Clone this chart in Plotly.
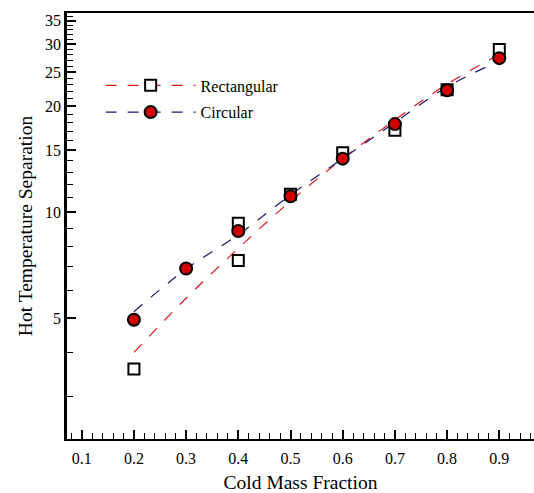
import plotly.graph_objects as go

# Marker data
rect_x = [0.2, 0.4, 0.4, 0.5, 0.6, 0.7, 0.8, 0.9]
rect_y = [3.59, 7.3, 9.3, 11.25, 14.77, 17.1, 22.27, 29.0]
circ_x = [0.2, 0.3, 0.4, 0.5, 0.6, 0.7, 0.8, 0.9]
circ_y = [4.95, 6.92, 8.84, 11.1, 14.2, 17.8, 22.2, 27.4]

# Fitted (dashed) curves
fit_x = [0.2, 0.3, 0.4, 0.5, 0.6, 0.7, 0.8, 0.9]
rect_fit = [4.0, 5.7, 7.9, 10.75, 14.2, 18.3, 23.1, 28.1]
circ_fit = [5.22, 6.9, 8.63, 11.2, 14.2, 18.0, 22.7, 26.9]

y_major = [5, 10, 15, 20, 25, 30, 35]
y_minor = [v for v in range(3, 37) if v not in y_major]

RED = "rgb(225,25,25)"
BLUE = "rgb(25,25,115)"
FILL = "rgb(210,0,0)"
FONT = "Liberation Serif"

fig = go.Figure()
fig.add_trace(go.Scatter(x=fit_x, y=rect_fit, mode="lines", line=dict(color=RED, width=1.2, dash="11px,11px", shape="spline"), showlegend=False))
fig.add_trace(go.Scatter(x=fit_x, y=circ_fit, mode="lines", line=dict(color=BLUE, width=1.2, dash="11px,11px", shape="spline"), showlegend=False))
fig.add_trace(go.Scatter(x=rect_x, y=rect_y, mode="markers", marker=dict(symbol="square", size=11, color="white", line=dict(color="black", width=2)), showlegend=False))
fig.add_trace(go.Scatter(x=circ_x, y=circ_y, mode="markers", marker=dict(symbol="circle", size=12, color=FILL, line=dict(color="black", width=2)), showlegend=False))
# legend entries
fig.add_trace(go.Scatter(x=[None], y=[None], mode="lines+markers", name="Rectangular", legendgroup="a",
                         line=dict(color=RED, width=1.2, dash="11px,11px"),
                         marker=dict(symbol="square", size=11, color="white", line=dict(color="black", width=2))))
fig.add_trace(go.Scatter(x=[None], y=[None], mode="lines+markers", name="Circular", legendgroup="b",
                         line=dict(color=BLUE, width=1.2, dash="11px,11px"),
                         marker=dict(symbol="circle", size=12, color=FILL, line=dict(color="black", width=2))))

fig.update_layout(
    width=534, height=493,
    margin=dict(l=67, r=0, t=13, b=51),
    plot_bgcolor="white", paper_bgcolor="white",
    font=dict(family=FONT, size=16, color="black"),
    showlegend=True,
    legend=dict(x=0.072, y=0.87, xanchor="left", yanchor="top", bgcolor="rgba(0,0,0,0)",
                font=dict(family=FONT, size=16), itemwidth=90, tracegroupgap=3,
                traceorder="grouped"),
)
fig.update_xaxes(
    range=[0.0718, 0.9665], showgrid=False, zeroline=False,
    showline=True, linecolor="black", linewidth=2, mirror=True,
    ticks="inside", ticklen=9, tickwidth=1.5, tickcolor="black",
    tick0=0.1, dtick=0.1, tickformat=".1f",
    minor=dict(ticks="inside", ticklen=6, tickwidth=1, tickcolor="black", dtick=0.02, tick0=0.1),
    title=dict(text="Cold Mass Fraction", font=dict(family=FONT, size=19.5), standoff=12),
    tickfont=dict(family=FONT, size=16),
    ticklabelstandoff=4,
)
fig.update_yaxes(
    type="log", range=[0.356, 1.566], showgrid=False, zeroline=False,
    showline=True, linecolor="black", linewidth=2.5, mirror=False,
    ticks="inside", ticklen=9, tickwidth=1.5, tickcolor="black",
    tickmode="array", tickvals=y_major, ticktext=[str(v) for v in y_major],
    minor=dict(ticks="inside", ticklen=6, tickwidth=1, tickcolor="black", tickvals=y_minor),
    title=dict(text="Hot Temperature Separation", font=dict(family=FONT, size=19.5), standoff=8),
    tickfont=dict(family=FONT, size=16),
)

fig.write_html("out.html")
